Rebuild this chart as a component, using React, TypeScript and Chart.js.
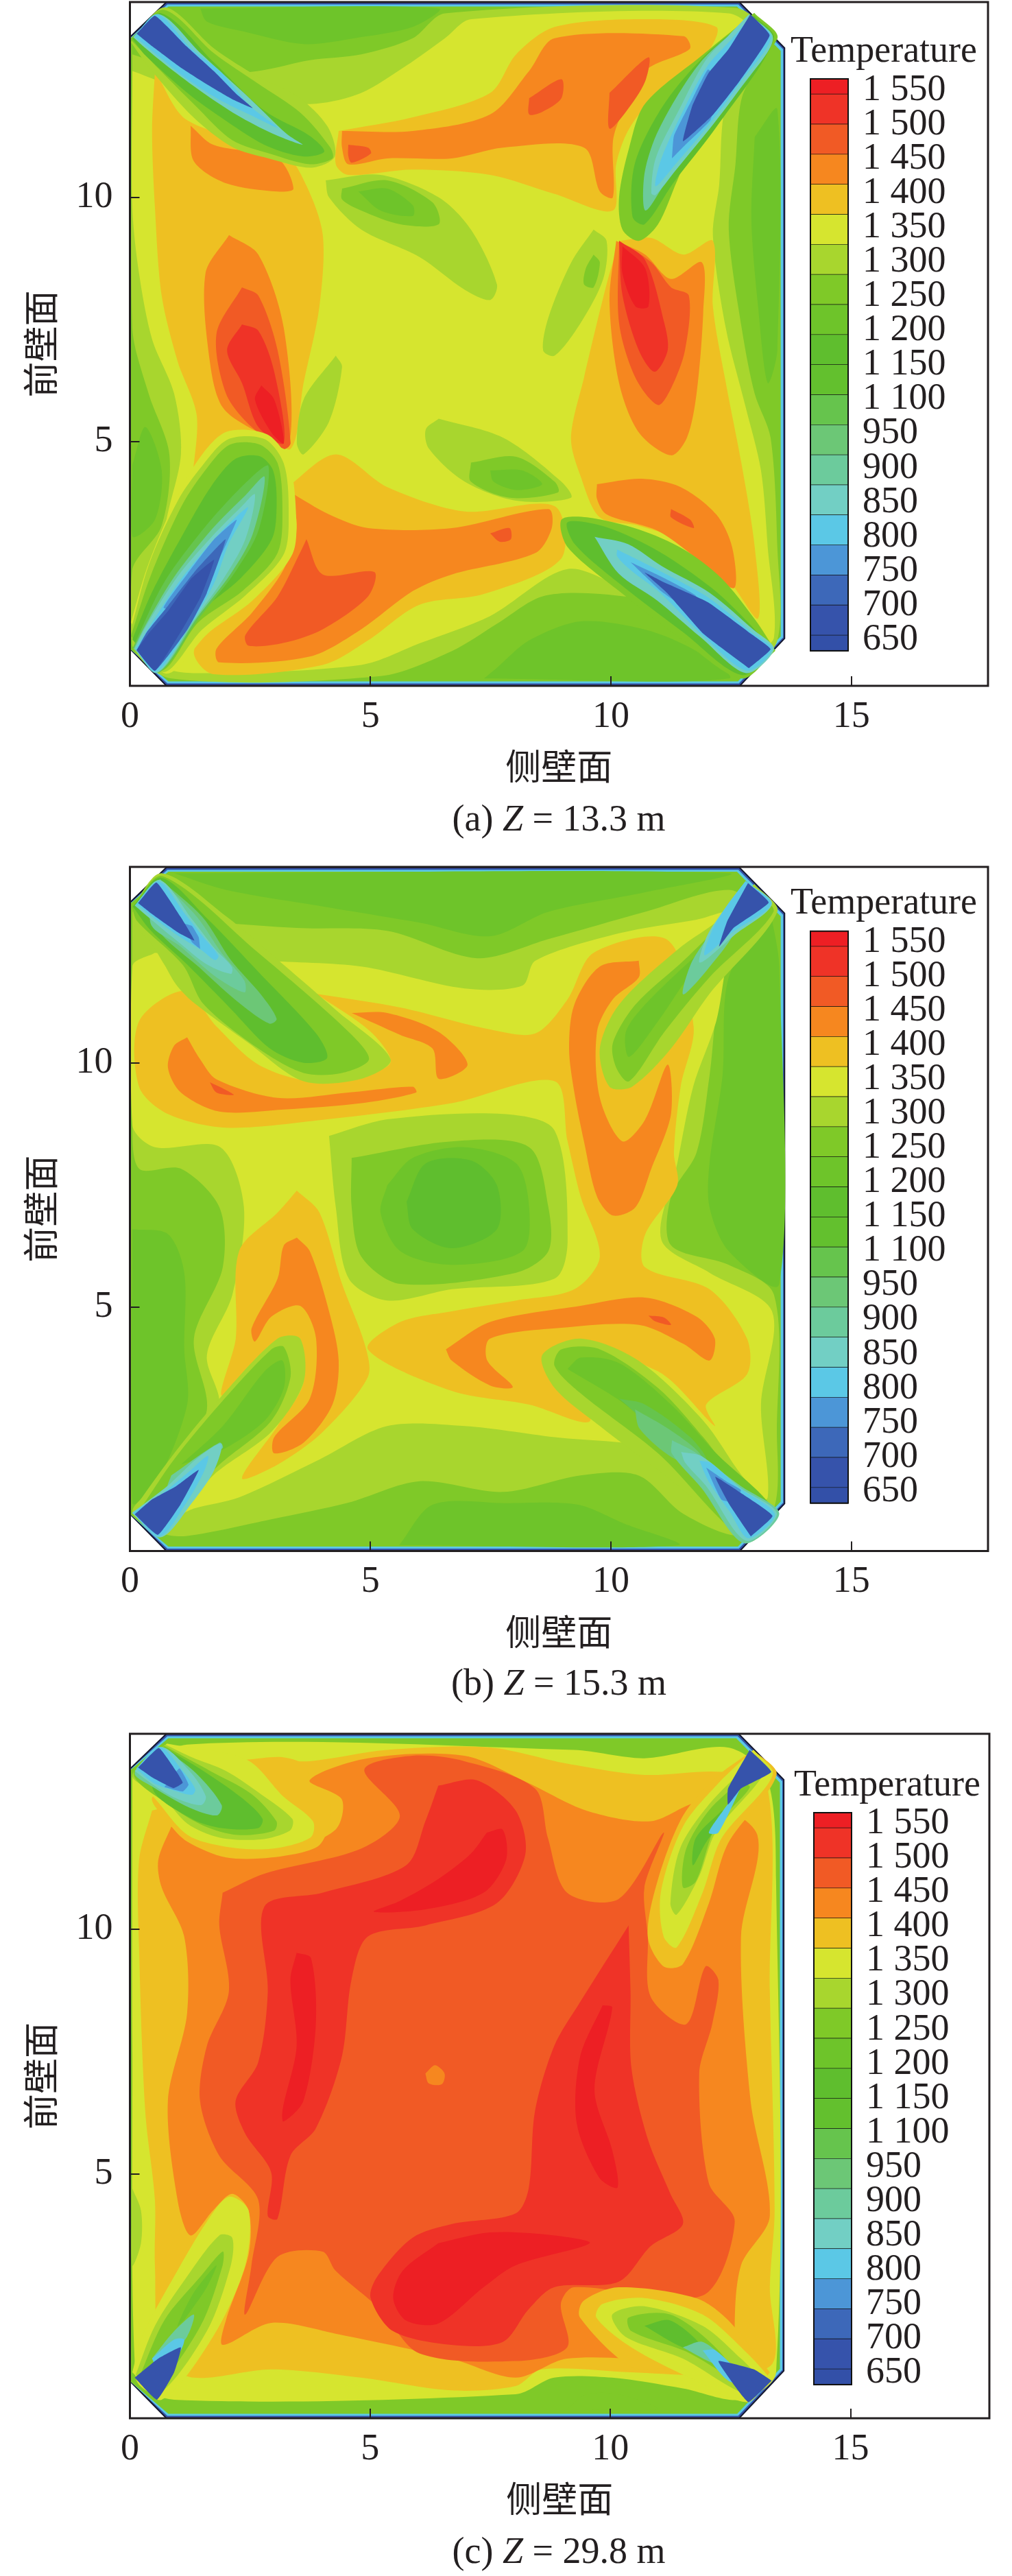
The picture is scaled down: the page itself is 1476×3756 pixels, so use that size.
import React, { useEffect, useRef } from "react";
import { Chart, registerables } from "chart.js";

Chart.register(...registerables);

type Region = [number, number[]];

// Legend
const legendLabels = ["1 550","1 500","1 450","1 400","1 350","1 300","1 250","1 200","1 150","1 100","950","900","850","800","750","700","650"];
const bandColors = ["#ed1f24","#ef3327","#f15a25","#f6871f","#eec022","#d6e52f","#a8d62e","#7fc928","#6ec42a","#5fbe2e","#63c02e","#66c44d","#6cc776","#6ccb9c","#72cfc4","#5bc8e6","#4c96d7","#3d68b9","#3653ab","#3350a8"];

// Furnace outline (section of the chamber, metres)
const outlineOuter = [0,0.76, 0.76,0, 12.68,0, 13.61,0.97, 13.61,13.06, 12.67,14, 0.76,14, 0,13.28];
const outlineMiddle = [0,0.76, 0.78,0.05, 12.66,0.05, 13.58,0.99, 13.58,13.03, 12.65,13.95, 0.78,13.95, 0,13.26];
const outlineInner = [0,0.76, 0.8,0.09, 12.64,0.09, 13.53,1.01, 13.53,13, 12.62,13.91, 0.8,13.91, 0,13.25];

// (a) Z = 13.3 m
const panelAField: Region[] = [
  [7,[.05,12.93,1.33,12.53,2.67,12.59,3.74,12.81,4.81,12.93,5.88,13.26,6.55,13.77,12.59,13.88,13.26,13.26,12.72,12.03,12.59,10.68,12.45,9.34,12.72,7.32,12.99,5.98,13.32,5.08,13.46,2.84,13.46,.93,12.72,.2,12.32,.71,11.25,1.6,9.77,1.88,8.57,1.83,7.63,1.27,6.69,.71,5.21,.2,.86,.15,.05,.82,.05,2.39,.66,3.28,.82,4.74,.39,5.98,.05,7.32]],
  [9,[1.46,13.87,6.42,13.87,5.88,13.49,4.67,13.26,3.61,13.14,2.4,13.39,1.6,13.6]],
  [9,[7.36,.15,12.45,.15,11.78,.71,10.71,1.15,9.37,1.32,8.3,.93,7.63,.37]],
  [9,[12.99,11.24,13.46,11.8,13.46,6.87,13.26,6.2,13.06,7.77,12.92,9.56]],
  [9,[.05,4.52,.32,5.3,.66,4.41,.52,3.4,.05,3.06]],
  [6,[.05,12.59,1.33,12.14,2.67,11.97,3.87,11.92,4.81,12.14,5.75,12.7,6.55,13.26,7.09,13.65,12.45,13.77,13.06,13.21,12.39,11.92,12.25,10.24,12.12,9.23,12.39,7.32,12.79,5.75,13.12,4.41,13.26,2.84,13.39,.99,12.92,.71,11.78,1.72,10.44,1.94,9.1,2.39,7.49,1.43,6.02,.87,4.81,.43,1.46,.26,.72,.43,1.13,1.72,.72,3,1.06,4.74,.92,5.98,.46,7.1,.19,8.44,.05,9.79]],
  [5,[.52,12.59,1.19,11.58,3.2,10.91,3.67,10.24,4.01,9.23,3.94,7.77,3.61,6.2,3.34,4.85,2.67,5.25,1.46,4.41,1.3,4.13,1.39,5.53,.99,6.65,.66,7.99,.52,9.79,.46,11.36]],
  [5,[4.34,11.36,5.88,11.64,7.49,12.14,8.03,12.93,8.83,13.49,10.71,13.65,12.19,13.49,11.98,12.93,10.98,12.14,10.38,11.41,10.11,10.68,10.04,9.73,8.83,10.07,7.49,10.46,5.88,10.57,4.54,10.46,4.28,10.68]],
  [5,[10.17,9.11,10.84,9.17,11.51,8.83,12.12,9.11,12.12,7.77,12.39,6.2,12.72,4.52,12.99,2.84,13.06,1.38,12.45,2.16,11.51,2.95,10.58,3.28,9.77,3.45,9.37,4.29,9.17,5.08,9.44,6.31,9.91,8.22]],
  [5,[3.27,4.07,4.28,4.74,5.35,4.07,6.96,3.57,8.83,3.68,8.97,2.61,7.36,1.88,6.02,1.66,4.95,.93,4.01,.43,1.73,.24,1.33,.71,2,1.72,2.67,2.5,3.2,3.4]],
  [4,[4.41,11.36,5.88,11.36,7.49,11.7,8.3,12.59,8.83,13.26,11.51,13.3,11.64,13.04,10.71,12.59,10.17,11.58,10.04,11.13,10.04,10,9.77,10.12,9.44,11.02,7.76,11.02,6.69,10.8,5.35,10.8,4.54,10.68,4.41,11.02]],
  [4,[1.26,11.47,1.73,11.08,3.07,10.8,3.4,10.18,3.07,10.12,2,10.29,1.33,10.74]],
  [4,[2.06,9.23,2.67,8.83,3.2,7.32,3.31,4.97,2.67,5.19,1.93,5.7,1.66,6.65,1.57,8.44]],
  [4,[10.11,9.11,10.71,8.83,11.25,8.33,11.89,8.67,11.92,7.66,11.78,5.98,11.58,5.08,11.25,4.72,10.58,5.19,10.17,6.2,9.97,7.88]],
  [4,[9.71,4.13,10.64,4.24,11.45,4.07,12.19,3.51,12.52,2.84,12.56,2,11.92,2.5,10.98,3.17,9.91,3.51,9.71,3.83]],
  [4,[3.34,3.96,4.14,3.51,4.95,3.23,6.69,3.23,8.7,3.62,8.77,3.23,8.43,2.72,6.69,2.28,5.88,1.94,4.81,1.16,3.74,.6,1.86,.48,1.8,.76,2.53,1.49,3.2,2.39,3.47,3.23]],
  [3,[3.67,3,4.01,2.28,5.08,2.33,4.95,1.83,4.01,1.16,3.2,.88,2.47,.82,2.4,1.04,3.07,1.83,3.54,2.73]],
  [3,[4.54,11.08,4.95,11.02,5.01,10.9,4.61,10.71,4.54,10.85]],
  [3,[8.3,12.03,8.97,12.42,8.97,12.03,8.57,11.75,8.3,11.7]],
  [3,[9.97,12.14,10.78,12.87,10.71,12.37,10.31,11.75,9.97,11.41]],
  [3,[2.33,8.16,2.67,7.99,3.07,6.87,3.34,4.97,3.2,4.85,2.53,5.3,2,5.98,1.8,7.21]],
  [3,[10.17,9.11,10.84,8.67,11.25,8.16,11.62,7.99,11.54,6.87,11.25,6.09,10.98,5.75,10.51,6.31,10.17,7.43]],
  [3,[7.49,3.12,7.89,3.23,7.92,3,7.69,2.95]],
  [3,[11.25,3.62,11.65,3.4,11.72,3.23,11.25,3.45]],
  [2,[2.33,7.4,2.67,7.27,3,6.43,3.2,4.97,2.67,5.3,2.33,6.2,2.02,6.87]],
  [2,[10.17,9.11,10.71,8.72,11.11,7.43,11.18,6.87,10.91,6.43,10.58,6.87,10.24,8]],
  [1,[2.73,6.15,3,5.86,3.2,4.97,2.94,5.19,2.6,5.86]],
  [1,[10.24,9,10.71,8.55,10.78,7.77,10.51,7.77,10.24,8.44]],
  [7,[4.07,10.35,5.21,10.46,6.42,10,7.09,9.34,7.63,8.22,7.49,7.9,6.96,8.11,6.02,8.78,4.81,9.34,4.14,10]],
  [8,[4.41,10.18,5.35,10.35,6.29,9.9,6.42,9.45,5.62,9.45,4.81,9.73,4.41,9.96]],
  [9,[4.75,10.12,5.35,10.18,5.88,9.84,5.88,9.62,5.21,9.73]],
  [7,[9.64,9.34,9.91,9.11,9.84,8.33,9.37,7.43,8.83,6.76,8.59,6.87,8.7,7.54,9.17,8.66]],
  [8,[9.64,8.83,9.77,8.67,9.64,8.16,9.44,8.22,9.48,8.55]],
  [7,[4.28,6.76,4.41,6.53,4.14,5.41,3.61,4.74,3.47,4.97,3.61,5.86]],
  [7,[6.42,5.47,7.76,5.08,8.97,4.18,9.17,3.85,8.03,3.79,6.96,4.18,6.22,4.85,6.15,5.25]],
  [8,[7.09,4.57,8.03,4.69,8.83,4.18,8.9,3.96,7.9,3.85,7.09,4.18]],
  [9,[7.49,4.41,8.16,4.41,8.57,4.13,8.03,4.01,7.56,4.18]],
];
const panelAJets: Region[] = [
  // top left
  [7,[.02,13.18,.73,13.89,1.75,13.05,2.65,12.48,3.5,12.06,4.11,11.45,4.26,10.84,3.78,10.61,2.88,10.8,2.13,11.03,1.32,11.64,.43,12.62]],
  [8,[.02,13.23,.71,13.84,1.75,12.95,2.65,12.34,3.55,11.73,4.16,11.03,4.21,10.8,3.74,10.68,2.93,10.89,2.13,11.17,1.37,11.87,.47,12.76]],
  [10,[.05,13.25,.66,13.77,1.75,12.76,2.79,11.78,3.74,11.26,4.04,10.94,3.59,10.84,2.79,11.08,1.89,11.64,1.23,12.11,.33,12.9]],
  [15,[.07,13.28,.61,13.75,1.47,12.95,2.51,12.01,3.26,11.3,3.59,11.08,2.98,11.3,2.22,11.69,1.51,12.15,.8,12.67,.28,13.09]],
  [16,[.09,13.3,.57,13.75,1.28,13.04,1.89,12.57,2.5,11.87,3.07,11.43,2.5,11.69,1.84,12.01,1.18,12.43,.52,12.95]],
  [19,[.14,13.35,.52,13.72,1.18,13.09,1.75,12.58,2.22,12.11,2.55,11.83,2.13,12.01,1.56,12.34,1.04,12.67,.47,13.09]],
  // top right
  [8,[12.98,13.78,13.46,13.25,12.05,11.8,11.38,10.35,10.98,9.45,10.58,9.11,10.24,9.34,10.17,10.01,10.38,11.02,10.71,11.92,11.92,12.93]],
  [10,[12.98,13.72,13.39,13.25,12.2,11.45,11.3,10.3,10.7,9.45,10.45,9.6,10.5,10.7,11.1,11.9,12,12.95]],
  [14,[12.92,13.7,13.36,13.25,12.1,11.5,11.2,10.4,10.72,9.73,10.7,10.5,11,11.4,11.85,12.75]],
  [15,[12.87,13.75,13.37,13.25,12.73,12.29,12.16,11.54,11.31,10.51,10.93,10.05,10.84,10.09,10.93,10.8,11.41,11.78,11.97,12.81,12.45,13.32]],
  [16,[12.9,13.7,13.33,13.28,12.68,12.34,12.12,11.59,11.36,10.7,10.93,10.23,11.05,10.8,11.55,11.87,12.02,12.71,12.5,13.23]],
  [17,[11.27,10.8,11.31,11.26,11.69,12.01,12.02,12.62,12.26,12.3,12.07,11.59,11.55,11.08]],
  [19,[12.9,13.75,13.3,13.32,12.68,12.39,12.12,11.69,11.5,11.15,11.69,11.87,12.02,12.53,12.45,13.04]],
  // bottom left
  [6,[.02,1.3,.75,.25,1.65,1.1,2.55,1.75,3.38,2.7,3.45,3.6,3.3,4.6,2.85,5.15,2,5.2,1.4,4.6,.85,3.6,.35,2.4]],
  [7,[.02,1.15,.7,.28,1.5,1.15,2.4,1.85,3.2,2.7,3.3,3.6,3.2,4.55,2.8,5.05,2.05,5.05,1.5,4.5,1,3.8,.4,2.5]],
  [8,[.02,1.02,.66,.31,1.42,1.3,2.36,1.96,3.07,2.72,3.17,3.66,3.07,4.56,2.7,4.94,2.08,4.94,1.61,4.47,1.09,3.71,.43,2.25]],
  [10,[.05,.95,.62,.33,1.4,1.45,2.3,2.2,2.95,3,3.05,3.7,2.98,4.4,2.7,4.7,2.2,4.65,1.7,4.1,1.1,3.1,.45,1.9]],
  [12,[.06,.78,.6,.27,1.45,1.4,2.2,2.35,2.68,3.2,2.88,4.5,2.45,4.2,1.6,3.3,.7,2.1]],
  [14,[.08,.76,.58,.27,1.4,1.4,2.1,2.3,2.55,3.1,2.8,4.28,2.4,3.9,1.7,3.2,.9,2.2,.3,1.2]],
  [15,[.1,.76,.56,.27,1.3,1.3,1.95,2.2,2.4,3,2.6,3.92,2.3,3.65,1.7,3.05,1,2.25,.35,1.25]],
  [16,[.12,.76,.54,.29,1.2,1.16,1.75,2.1,2.05,2.9,2.46,3.65,2.25,3.5,1.7,2.95,1,2.1,.4,1.2]],
  [17,[1.2,1.5,1.7,2.3,2,2.9,2.22,3.4,1.75,3,1.2,2.3,.7,1.6]],
  [18,[.14,.73,.52,.31,1.2,1.16,1.6,1.9,1.99,3,1.4,2.4,.8,1.65,.35,1.1]],
  [19,[.14,.73,.52,.31,1.09,1.16,1.47,1.82,1.75,2.58,1.28,2.2,.8,1.54,.38,1.06]],
  // bottom right
  [8,[13.42,.72,12.72,.15,11.5,.93,10.17,1.94,9.1,2.84,8.97,3.4,9.5,3.45,10.58,3.2,11.5,2.8,12.3,2.2,13,1.35]],
  [10,[13.35,.72,12.72,.22,11.5,1.1,10.17,2.1,9.25,2.9,9.1,3.35,9.9,3.25,11,2.75,12.1,2,12.9,1.25]],
  [15,[9.66,3.05,10.36,2.9,11.06,2.45,12.06,1.9,12.96,1.15,13.39,.75,12.81,.26,11.86,1,10.96,1.75,10.16,2.3]],
  [16,[10.13,2.79,11.08,2.32,12.02,1.81,12.92,1.1,13.35,.75,12.83,.31,11.93,1.01,11.03,1.9,10.41,2.37,10.13,2.65]],
  [17,[10.41,2.53,11.08,2.22,11.76,1.85,11.88,1.39,11.03,1.95]],
  [19,[12.87,.36,13.32,.75,12.92,1.06,12.02,1.71,11.08,2.13,10.7,2.32,11.17,1.9,11.93,1.06]],
];

// (b) Z = 15.3 m
const panelBField: Region[] = [
  [9,[.92,13.88,12.45,13.88,10.71,13.49,8.7,13.09,7.49,12.59,6.02,12.87,4.01,13.2,2,13.54]],
  [9,[13.32,13.09,13.5,11.97,13.5,5.47,12.45,6.14,12.05,7.04,12.05,7.94,12.32,9.73,12.45,11.75]],
  [9,[.05,6.59,.79,6.49,1.13,5.7,1.13,4.13,1.19,3,.52,1.32,.05,.99]],
  [7,[.05,13.09,1.19,12.93,3.47,12.76,5.35,12.7,7.22,12.14,8.7,12.53,10.71,13.09,12.45,13.54,13.06,13.09,12.32,11.75,12.05,9.73,11.78,8.16,11.25,7.26,11.25,6.26,12.45,5.86,13.39,5.25,13.45,2.44,13.39,.87,12.72,.31,11.51,.76,10.57,1.55,9.37,1.55,7.76,1.21,6.02,1.43,4.54,.99,2.94,.65,1.19,.31,.66,.37,.05,.82,.92,1.66,1.6,2.89,1.33,4.35,1.93,5.81,1.86,7.04,1.06,7.83,.19,7.83,.05,8.83]],
  [9,[5.6,.12,11.4,.12,10.3,.55,9.3,.95,7.8,.98,6.3,.95]],
  [6,[.52,12.25,2.8,12.09,4.81,11.97,6.96,11.52,8.16,11.58,8.43,12.09,10.17,12.65,11.78,12.93,12.65,13.09,12.39,11.97,12.19,10.85,11.71,9.51,11.38,7.94,11.05,6.37,12.05,5.7,13.35,4.91,13.12,3,13.26,1.1,12.85,1.1,11.25,2.05,8.83,2.33,6.96,2.56,5.35,2.56,3.95,1.88,2.27,1.1,1.33,.87,.66,.59,1.33,1.88,1.86,3,1.6,4.01,2.13,5.25,2.37,7.04,1.88,8.27,.52,8.27,.05,8.72,.05,11.97]],
  [5,[3.87,11.41,5.62,11.13,7.49,10.68,8.43,10.6,9.1,11.3,9.64,12.25,11.18,12.51,11.72,10.74,11.45,9.51,11.31,8.16,11.38,7.49,10.71,6.48,10.71,5.81,12.05,5.36,12.83,4.35,12.83,3.62,11.98,3,12.16,2.56,10.98,3.68,9.1,4.13,9.57,2.67,8.3,3,6.69,3.28,4.95,4.13,5.62,4.69,6.69,4.91,8.03,5.13,9.24,5.36,9.77,6.03,9.37,7.26,9.1,8.39,8.83,9.62,6.69,9.17,4.01,8.83,2,8.67,.79,8.95,.19,9.51,.19,10.85,1.13,11.47,1.8,10.74,2.67,9.96,3.74,9.62,4.81,9.73,5.42,10.01,5.01,10.63]],
  [5,[3.47,7.38,3.94,6.93,4.41,5.47,4.88,4.24,4.95,3.57,4.01,2.44,3.07,1.77,2.33,1.49,3.07,2.56,3.61,3.45,3.47,4.35,1.93,3.17,2.2,4.35,2.27,6.14,3.07,6.93]],
  [4,[1.19,10.52,1.46,10.07,1.8,9.66,3.07,9.28,4.54,9.39,5.88,9.51,5.95,9.39,4.81,9.17,3.2,9.04,1.86,9,1.06,9.39,.79,9.9,.92,10.35]],
  [4,[4.61,11.02,5.35,11.02,6.42,10.63,7.02,9.96,6.42,9.67,6.29,10.29,5.62,10.57]],
  [4,[10.58,12.09,10.58,11.75,10.04,11.3,9.71,10.63,9.77,9.28,10.24,8.39,10.71,8.83,11.18,9.96,11.25,8.95,10.84,7.83,10.51,7.04,10.04,6.87,9.71,7.26,9.44,8.39,9.24,9.39,9.13,10.29,9.24,11.19,9.77,11.97]],
  [4,[3.47,6.42,3.74,6.14,4.14,4.91,4.34,3.9,4.21,3,3.61,2.22,3,2,3,2.33,3.74,3.12,3.87,4.35,3.54,5.02,2.94,4.8,2.6,4.29,2.53,4.56,3.07,5.58,3.2,6.26]],
  [4,[6.57,4.13,7.49,4.69,9.37,5.02,10.71,5.19,11.78,4.8,12.16,4.35,12.05,3.9,11.51,4.24,10.58,4.63,8.97,4.57,7.49,4.35,7.43,3.9,7.96,3.36,7.49,3.39,6.69,3.9]],
  [3,[1.66,9.6,2,9.44,2.16,9.34,1.8,9.39]],
  [3,[10.78,4.82,11.11,4.78,11.25,4.63,10.91,4.71]],
  [7,[4.14,8.5,5.35,8.84,7.76,8.95,8.83,8.61,9.1,6.37,8.83,5.58,6.69,5.36,5.35,5.13,4.55,5.58,4.28,7.04]],
  [8,[4.61,8.05,6.69,8.39,8.3,8.27,8.7,7.04,8.7,6.14,8.03,5.7,5.62,5.47,4.81,6.03,4.61,7.04]],
  [9,[5.35,7.49,5.88,8.05,6.96,8.27,8.03,7.94,8.3,7.04,8.16,6.14,6.69,5.86,5.62,6.14,5.21,6.93]],
  [10,[5.75,7.15,6.15,7.94,7.09,8,7.63,7.49,7.63,6.59,6.69,6.2,5.88,6.59]],
];
const panelBJets: Region[] = [
  // top left
  [7,[.05,13.2,.66,13.88,2,13,3.2,12,4.28,11.08,5.42,10.07,4.81,9.67,3.61,9.62,2.47,10.4,1.3,11.25,.96,11.6,.72,12,.4,12.5,.1,12.8]],
  [8,[.04,13.2,.68,13.82,2.67,12.25,4.55,10.63,4.97,10.07,4.41,9.79,3.61,9.79,2.67,10.29,1.53,11.2,1.1,12,.15,12.9]],
  [10,[.06,13.2,.65,13.79,1.62,12.94,2.71,11.82,3.87,10.6,4.1,10.1,3.6,10,2.9,10.3,2.1,11.1,1.2,12,.43,12.71]],
  [13,[.62,13.76,1.5,12.99,2.1,12.1,2.72,11.4,3.05,10.9,2.9,10.8,2.3,11.2,1.5,11.9,.5,12.85]],
  [14,[.62,13.76,1.39,12.99,1.91,12.24,2.38,11.68,2.38,11.44,1.77,11.77,1.05,12.38,.43,12.85]],
  [15,[.1,13.22,.62,13.74,1.29,12.94,1.77,12.33,2.12,11.96,2.1,11.82,1.62,12,1.01,12.47,.48,12.9]],
  [16,[.13,13.25,.6,13.71,1.15,13.04,1.53,12.57,1.84,12.19,1.77,12.1,1.48,12.31,1.05,12.57,.53,12.94]],
  [17,[1.46,12.33,1.29,12.47,1.1,12.85,1.29,12.8,1.43,12.57]],
  [19,[.17,13.27,.55,13.69,1.05,12.99,1.34,12.5,1.01,12.66,.48,13.03]],
  // top right
  [7,[12.98,13.66,13.46,13.09,12.05,11.41,11.25,10.29,10.44,9.51,9.97,9.51,9.77,10.29,10.17,11.19,11.38,12.31,12.32,12.98]],
  [8,[12.98,13.5,13.38,13.09,12.05,11.75,11.11,10.63,10.38,9.62,10.11,9.9,10.04,10.4,10.51,11.19,11.51,12.09,12.32,12.87]],
  [9,[12.72,12.98,12.92,13.04,11.78,11.97,10.98,10.85,10.38,10.12,10.31,10.63,10.71,11.19,11.78,12.2]],
  [14,[12.35,13,12.6,12.75,12,11.9,11.5,11.4,11.7,12.1]],
  [15,[12.8,13.72,13.35,13.25,12.55,12.6,11.85,12.05,12,12.6,12.4,13.2]],
  [16,[12.8,13.72,13.33,13.25,12.5,12.65,11.95,12.2,12.1,12.7,12.4,13.2]],
  [19,[12.85,13.68,13.28,13.28,12.55,12.76,12.25,12.38,12.42,12.9]],
  // bottom left
  [7,[.05,.82,.66,.37,1.73,1.55,2.94,2.44,3.61,3.45,3.54,4.35,3.07,4.35,1.86,3.12,.92,2]],
  [8,[.19,.82,.59,.54,1.86,1.77,2.94,2.67,3.34,3.57,3.2,4.18,2.94,4.13,1.86,3,.92,1.88]],
  [9,[1.06,1.77,1.93,2.56,2.8,3.68,3.17,3.9,3.2,3.34,2.8,2.67,1.88,2.05]],
  [14,[.86,1.55,1.86,2.22,1.93,2.11,1.19,1.55,.79,1.32]],
  [15,[.04,.78,.64,.28,1.3,1,1.75,1.65,1.9,2.2,1.4,1.9,.8,1.35]],
  [16,[.06,.78,.62,.3,1.15,.95,1.55,1.65,1.62,1.95,1.2,1.6,.7,1.2]],
  [19,[.1,.75,.58,.33,1.05,.95,1.43,1.66,.95,1.32,.45,1.05]],
  // bottom right
  [7,[13.39,.82,12.85,.31,10.98,1.66,9.77,2.56,8.83,3.34,8.57,4.01,9.37,4.35,10.57,3.9,11.92,2.67,12.72,1.55]],
  [8,[13.45,.76,12.85,.2,10.98,2,9.37,3.23,8.83,3.79,8.97,4.13,9.77,4.13,10.98,3.34,11.92,2.33,12.72,1.32]],
  [9,[9.1,3.73,9.37,3.96,10.17,3.85,11.25,3,12.19,2,13.4,.78,12.85,.2,12.05,1.2,10.44,2.89]],
  [12,[10.17,3.12,10.71,3,11.65,2.33,11.98,1.88,11.38,2.11]],
  [13,[10.5,2.9,11.2,2.5,11.8,2.05,12,1.7,11.3,1.9,10.6,2.5]],
  [14,[11.27,2.27,11.74,2.03,12.7,1.33,13.5,.77,12.76,.16,11.89,1.28,11.27,1.99]],
  [15,[11.46,2.03,11.89,1.94,12.7,1.29,13.45,.77,12.81,.21,11.98,1.33,11.55,1.8]],
  [16,[11.84,1.85,12.08,1.8,12.65,1.31,13.41,.75,12.86,.26,12.46,.82,12.03,1.43]],
  [17,[11.98,1.71,12.44,1.4,12.7,1.25,12.6,1,12.3,1.05]],
  [19,[12.91,.3,13.36,.72,12.7,1.19,12.17,1.52,12.46,.96]],
];

// (c) Z = 29.8 m
const panelCField: Region[] = [
  [6,[.05,13.1,1.19,13.78,9.24,13.67,10.71,13.5,12.45,13.72,13.26,13.1,13.45,10.98,13.45,.94,12.72,.38,11.51,.61,10.04,.83,8.83,.83,8.03,.49,.92,.38,.12,.83,.05,7.61]],
  [8,[9.1,.19,10.98,.19,10.17,.49,9.51,.49]],
  [7,[.05,4.7,.23,4.25,.23,3.58,.05,3.13]],
  [5,[.46,12.43,2.4,12.88,2.47,13.44,3.74,13.44,5.35,13.67,7.49,13.72,9.1,13.39,10.71,13.16,12.32,13.22,13.26,12.94,13.32,8.73,13.42,4.25,13.32,2.68,13.37,1.11,12.05,.89,10.44,.94,8.57,1,8.03,.66,6.69,.57,4.81,.83,2.94,1,1.33,.83,.66,1.22,.52,3.13,.52,4.47,.32,6.27,.19,9.63,.19,11.42]],
  [4,[.86,12.1,1.86,11.59,3.2,11.59,4.28,12.04,4.41,12.66,3.74,13.05,4.95,13.5,6.96,13.55,8.3,12.99,9.5,12.43,10.84,12.21,11.92,12.6,13.06,11.93,12.72,9.85,12.92,6.49,13.32,4.14,12.72,3.13,12.59,1.78,12.72,1,11.11,1.17,9.1,1.22,8.03,.83,6.69,1.22,4.28,1.73,2.94,1.95,1.93,1.5,2,2.01,2.47,3.35,2.47,4.25,2.13,4.59,1.73,4.25,1.26,3.74,.99,4.47,.79,6.49,1.19,8.28,1.13,9.85,.66,10.86,.59,11.42]],
  [3,[1.93,10.75,2.8,11.14,4.81,11.65,5.62,12.32,4.88,13.27,5.88,13.55,6.96,13.44,8.43,12.88,8.7,11.87,9.1,10.75,10.17,10.62,11.11,11.98,10.71,10.86,10.78,9.85,10.84,8.62,11.58,8.06,11.98,9.24,12.25,8.96,12.12,8.06,11.85,7.05,12.05,4.81,12.59,4.02,11.92,2.51,9.24,2.68,8.97,2.34,9.1,1.45,8.03,1.17,6.02,1.33,5.21,2.23,4.28,3.02,4.01,3.41,3.07,3.3,2.4,2.12,2.53,3.13,2.67,4.47,1.86,5.37,1.46,6.49,1.6,7.61,2.06,8.73,1.86,10.08]],
  [4,[6.15,7.05,6.35,7.22,6.55,7.05,6.49,6.83,6.22,6.85]],
  [2,[6.42,12.94,7.22,13.05,8.03,12.43,8.23,11.53,7.63,10.53,6.15,10.08,4.95,9.85,4.61,8.96,4.41,7.39,3.87,5.93,3.34,5.37,3.07,4.08,2.87,4.14,2.94,5.03,2.4,5.82,2.2,6.49,2.67,7.28,2.87,8.73,2.8,10.47,4.01,10.75,5.75,11.31,6.15,12.21]],
  [2,[10.38,10.08,9.37,8.51,8.83,7.61,8.43,6.27,8.3,4.7,8.03,4.19,6.69,3.97,5.88,3.69,5.15,2.9,5.01,2.46,5.48,1.78,6.69,1.5,7.76,1.56,8.3,2.23,8.83,2.68,10.17,2.79,10.84,3.52,11.51,3.97,11.25,4.59,10.78,5.71,10.44,7.16,10.42,8.73]],
  [1,[7.43,11.98,7.76,12.04,7.83,11.42,7.36,10.75,6.15,10.41,5.08,10.36,5.62,10.58,6.42,11.03,7.09,11.54]],
  [1,[3.47,9.52,3.77,9.41,3.87,8.06,3.61,6.49,3.2,6.07,3.18,6.32,3.47,7.61,3.34,8.96]],
  [1,[9.84,8.45,10.04,8.4,9.67,6.72,10.04,5.48,10.15,4.72,9.77,4.92,9.3,6.04,9.37,7.39]],
  [1,[6.42,3.58,7.49,3.8,8.83,3.74,9.57,3.58,8.03,3.13,7.36,2.68,6.42,1.94,5.75,2,5.48,2.46,5.68,3.02]],
];
const panelCJets: Region[] = [
  // top left
  [5,[2.43,13.47,3.19,13.52,3.71,13.33,3.71,13.05,4.14,12.63,4.14,12.12,3.9,11.69,2.95,11.47,2,11.47,1.2,11.79,.82,12.16,.48,12.72]],
  [6,[.77,13.8,2.43,13.47,3.19,12.72,3.81,12.21,3.76,11.88,2.95,11.65,2,11.69,1.2,11.93,.48,12.72,.05,13.12]],
  [7,[.74,13.78,1.29,13.52,2,13.24,2.72,12.77,3.38,12.26,3.33,12.02,2.72,11.84,1.86,11.88,1.2,12.16,.67,12.72,.05,13.14]],
  [8,[.72,13.75,1.67,13.24,2.53,12.77,3.05,12.21,3,12.02,2.24,11.93,1.53,12.12,.82,12.54,.08,13.17]],
  [10,[.7,13.73,1.53,13.24,2.34,12.68,2.76,12.26,2.67,12.07,1.91,12.07,1.29,12.26,.48,12.86]],
  [14,[.67,13.73,1.38,13.19,1.91,12.54,1.81,12.33,1.24,12.49,.48,12.91,.1,13.2]],
  [15,[.1,13.24,.65,13.73,1.24,13.24,1.58,12.72,1.48,12.54,.96,12.68,.48,12.96]],
  [16,[.13,13.29,.62,13.73,1.1,13.24,1.36,12.87,1.29,12.75,.82,12.87,.48,13]],
  [17,[.72,12.91,1.03,13.29,1.22,12.96,1.1,12.82]],
  [19,[.17,13.31,.6,13.71,.96,13.24,1.1,13,.91,12.89,.48,13.1]],
  // top right
  [5,[12.98,13.67,13.46,13.16,12.45,11.76,12.05,10.53,11.51,9.29,11.11,9.24,10.78,9.85,10.98,10.98,11.51,12.32,12.19,13.1]],
  [6,[12.98,13.67,13.38,13.16,12.32,11.87,11.92,10.75,11.38,9.63,11.11,9.85,11.05,10.75,11.51,12.1,12.25,12.99]],
  [7,[12.9,13.4,13.2,13.2,12.19,11.98,11.85,11.09,11.38,10.3,11.25,10.53,11.45,11.65,12.05,12.55]],
  [8,[12.72,13.05,12.9,12.9,12.19,12.1,11.78,10.98,11.51,10.86,11.58,11.65,12.05,12.43]],
  [10,[12.32,12.43,12.45,12.43,11.98,11.76,11.72,11.31,11.78,11.87]],
  [16,[12.39,12.49,12.79,13,12.9,13.3,12.25,11.98,12.05,11.98]],
  [19,[12.9,13.67,13.35,13.22,12.72,12.88,12.45,12.55,12.45,12.88]],
  // bottom left
  [6,[.05,.94,.66,.38,1.73,1.67,2.4,3.13,2.47,4.25,2.06,4.53,1.6,4.02,.92,2.9,.25,1.67]],
  [7,[.12,.89,.59,.49,1.6,1.78,2.1,3.13,2.13,3.69,1.86,3.74,1.19,2.9,.52,1.89]],
  [8,[.19,.83,.52,.6,1.47,1.89,1.93,3.13,1.93,3.41,1.47,2.9,.72,2.01]],
  [9,[1.13,2.01,1.6,2.68,1.8,3.13,1.33,2.57,.99,1.89]],
  [14,[.46,1.22,.92,1.78,1.33,2.12,1.19,1.67,.8,1.28]],
  [16,[.46,1.22,.92,1.61,1.13,1.61,.99,1.28,.59,1]],
  [19,[.1,.83,.56,.38,.92,.94,1.06,1.45,.59,1.22]],
  // bottom right
  [5,[13.32,.94,12.85,.33,11.38,1,10.44,1.05,9.37,2.06,9.44,2.4,10.17,2.68,11.78,2.46,12.45,2.01]],
  [6,[13.32,.83,12.85,.33,11.65,.83,10.44,1.45,9.71,2.06,9.84,2.34,10.71,2.46,11.92,2.12,12.85,1.33]],
  [7,[13.12,.83,12.85,.49,11.51,1.22,10.31,1.67,10.04,2.12,10.71,2.29,11.92,1.89,12.72,1.22]],
  [8,[12.85,.6,11.65,1.33,10.44,1.78,10.38,2.06,11.25,2.12,12.19,1.45]],
  [10,[10.71,1.89,11.25,2,11.92,1.45,11.51,1.45]],
  [14,[11.51,1.45,11.92,1.56,12.39,1.17,12.19,1.11]],
  [16,[11.92,1.39,12.19,1.39,12.85,.72,12.45,.77]],
  [19,[13.36,.77,12.88,.33,12.59,.66,12.25,1.17,12.99,1]],
];

const xMaxima = [17.84, 17.84, 17.89];
const yMaxima = [14, 14.01, 14];
const xTicks = [0, 5, 10, 15];
const yTicks = [0, 5, 10];
const captions = [["(a) ", " = 13.3 m"], ["(b) ", " = 15.3 m"], ["(c) ", " = 29.8 m"]];

const INK = "#231f20";
const SERIF = "'Liberation Serif', serif";
const CJK = "'Noto Sans CJK SC', sans-serif";

function makeDataset(band: number, flat: number[], tension: number, edge = 0) {
  const data: { x: number; y: number }[] = [];
  for (let i = 0; i < flat.length; i += 2) data.push({ x: flat[i], y: flat[i + 1] });
  data.push({ x: flat[0], y: flat[1] });
  return {
    data,
    showLine: true,
    fill: "shape",
    tension,
    backgroundColor: bandColors[band - 1],
    borderColor: "#14182c",
    borderWidth: edge,
    pointRadius: 0,
    pointHoverRadius: 0,
  };
}

function buildDatasets(field: Region[], jets: Region[]) {
  const painted = [
    makeDataset(19, outlineOuter, 0, 2),
    makeDataset(16, outlineMiddle, 0),
    makeDataset(8, outlineInner, 0),
    ...[...field, ...jets].map(([b, pts]) => makeDataset(b, pts, b >= 17 ? 0.12 : 0.3)),
  ];
  // Chart.js paints the last dataset first
  return painted.reverse();
}

const panels = [
  { top: 0, height: 1180, plotTop: 3, plotBottom: 1000, plotRight: 1441, legendX: 0, legendTop: 115, tempBase: 90, labelTop: 131.7, captionY: 1196.5, field: panelAField, jets: panelAJets },
  { top: 1262, height: 1180, plotTop: 2, plotBottom: 999.5, plotRight: 1441, legendX: 0, legendTop: 95.7, tempBase: 70, labelTop: 111.6, captionY: 1195, field: panelBField, jets: panelBJets },
  { top: 2526, height: 1180, plotTop: 2, plotBottom: 1000, plotRight: 1443, legendX: 5, legendTop: 117, tempBase: 91.7, labelTop: 133, captionY: 1196.5, field: panelCField, jets: panelCJets },
];

function Panel({ index }: { index: number }) {
  const ref = useRef<HTMLCanvasElement>(null);
  const p = panels[index];
  useEffect(() => {
    const overlay = {
      id: "frameAndLegend",
      afterDraw(chart: any) {
        const { ctx, chartArea: a } = chart;
        ctx.save();
        ctx.strokeStyle = INK;
        ctx.lineWidth = 3;
        ctx.strokeRect(a.left, a.top, a.right - a.left, a.bottom - a.top);
        // Colour bar
        const left = 1182 + p.legendX;
        const width = 55;
        const firstH = 22.5;
        const step = 43.83;
        let y = p.legendTop;
        bandColors.forEach((c, i) => {
          const h = i === 0 || i === bandColors.length - 1 ? firstH : step;
          ctx.fillStyle = c;
          ctx.fillRect(left, y, width, h);
          ctx.strokeStyle = "#111";
          ctx.lineWidth = 1.5;
          ctx.beginPath();
          ctx.moveTo(left, y + h);
          ctx.lineTo(left + width, y + h);
          ctx.stroke();
          y += h;
        });
        ctx.lineWidth = 2;
        ctx.strokeRect(left, p.legendTop, width, y - p.legendTop);
        ctx.fillStyle = INK;
        ctx.font = `54px ${SERIF}`;
        ctx.textAlign = "left";
        ctx.textBaseline = "alphabetic";
        ctx.fillText("Temperature", 1153 + p.legendX, p.tempBase);
        ctx.textBaseline = "middle";
        legendLabels.forEach((t, i) => {
          ctx.fillText(t, 1258 + p.legendX, p.labelTop + i * 50.06);
        });
        ctx.restore();
      },
    };
    const chart = new Chart(ref.current as HTMLCanvasElement, {
      type: "scatter",
      data: { datasets: buildDatasets(p.field, p.jets) as any },
      options: {
        animation: false,
        responsive: false,
        devicePixelRatio: 1,
        events: [],
        layout: { autoPadding: false, padding: { top: p.plotTop, right: 1476 - p.plotRight, left: 0, bottom: 0 } },
        plugins: {
          legend: { display: false },
          tooltip: { enabled: false },
          filler: { drawTime: "beforeDatasetDraw" },
        } as any,
        scales: {
          x: {
            type: "linear",
            min: 0,
            max: xMaxima[index],
            afterFit: (s: any) => { s.height = p.height - p.plotBottom; s.paddingLeft = 0; s.paddingRight = 0; },
            afterBuildTicks: (s: any) => { s.ticks = xTicks.map((value) => ({ value })); },
            grid: { drawOnChartArea: false, drawTicks: true, tickLength: -14, color: INK, lineWidth: 2, z: 1 },
            border: { display: false },
            ticks: { color: INK, font: { family: SERIF, size: 54 }, padding: 27, maxRotation: 0, autoSkip: false, includeBounds: false, callback: (v: any) => String(v) },
            title: { display: true, text: "侧壁面", color: INK, font: { family: CJK, size: 52 }, padding: { top: 32, bottom: 32 } },
          },
          y: {
            type: "linear",
            min: 0,
            max: yMaxima[index],
            afterFit: (s: any) => { s.width = 189.5; s.paddingTop = 0; s.paddingBottom = 0; },
            afterBuildTicks: (s: any) => { s.ticks = yTicks.map((value) => ({ value })); },
            grid: { drawOnChartArea: false, drawTicks: true, tickLength: -14, color: INK, lineWidth: 2, z: 1 },
            border: { display: false },
            ticks: { color: INK, font: { family: SERIF, size: 54 }, padding: 39, autoSkip: false, includeBounds: false, callback: (v: any) => (v === 0 ? "" : String(v)) },
            title: { display: true, text: "前壁面", color: INK, font: { family: CJK, size: 52 }, padding: { top: 28, bottom: 28 } },
          },
        },
      } as any,
      plugins: [overlay],
    });
    return () => chart.destroy();
  }, []);
  return (
    <>
      <canvas
        ref={ref}
        width={1476}
        height={p.height}
        style={{ position: "absolute", left: 0, top: p.top, width: 1476, height: p.height, display: "block" }}
      />
      <div
        style={{
          position: "absolute",
          left: 0,
          width: 1630,
          top: p.top + p.captionY - 35,
          height: 70,
          lineHeight: "70px",
          textAlign: "center",
          font: `54px ${SERIF}`,
          color: INK,
          whiteSpace: "pre",
        }}
      >
        {captions[index][0]}
        <i>Z</i>
        {captions[index][1]}
      </div>
    </>
  );
}

export default function App() {
  return (
    <div style={{ position: "absolute", left: 0, top: 0, width: 1476, height: 3756, overflow: "hidden", background: "#fff" }}>
      <Panel index={0} />
      <Panel index={1} />
      <Panel index={2} />
    </div>
  );
}
